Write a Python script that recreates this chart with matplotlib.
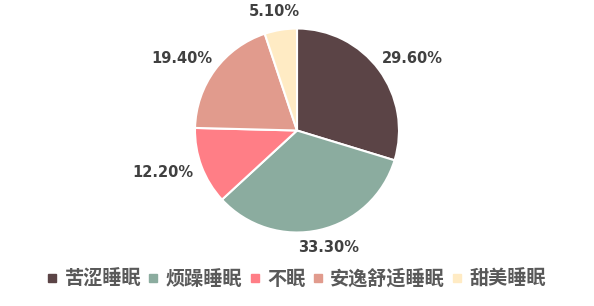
import numpy as np
import matplotlib
matplotlib.use("Agg")
import matplotlib.pyplot as plt
from matplotlib.lines import Line2D

categories = ["苦涩睡眠", "烦躁睡眠", "不眠", "安逸舒适睡眠", "甜美睡眠"]
values = [29.6, 33.3, 12.2, 19.4, 5.1]
pct_labels = ["29.60%", "33.30%", "12.20%", "19.40%", "5.10%"]
colors = ["#5B4446", "#8BAC9F", "#FF7E86", "#E19B8D", "#FFEBC4"]

plt.rcParams['font.family'] = ['Noto Sans CJK SC', 'DejaVu Sans']

W, H = 594, 306
fig = plt.figure(figsize=(W / 100, H / 100), dpi=100)
cx, cy, r = 297, 130.5, 102
ax = fig.add_axes([(cx - r) / W, (H - cy - r) / H, 2 * r / W, 2 * r / H])
ax.set_xlim(-1, 1)
ax.set_ylim(-1, 1)
ax.set_aspect('equal')
ax.axis('off')

wedges, _ = ax.pie(values, colors=colors, startangle=90, counterclock=False,
                   radius=1, wedgeprops=dict(edgecolor='white', linewidth=1.5))
ax.set_xlim(-1, 1)
ax.set_ylim(-1, 1)

fig.canvas.draw()
renderer = fig.canvas.get_renderer()
for w, lab in zip(wedges, pct_labels):
    th = np.deg2rad((w.theta1 + w.theta2) / 2)
    t = ax.text(0, 0, lab, ha='center', va='center', fontsize=10.5,
                fontweight='bold', color='#404040', family='DejaVu Sans')
    bb = t.get_window_extent(renderer)
    hw = (bb.width / 2 + 6) / r
    hh = (bb.height / 2 + 6) / r
    d0 = 1 + 5 / r
    x = d0 * np.cos(th) + hw * np.cos(th)
    y = d0 * np.sin(th) + hh * np.sin(th)
    t.set_position((x, y))

handles = [Line2D([], [], marker='s', linestyle='none', markersize=6,
                  markerfacecolor=c, markeredgecolor=c) for c in colors]
leg = fig.legend(handles, categories, loc='center', bbox_to_anchor=(0.5, 1 - 279 / H),
                 ncol=5, frameon=False, handlelength=0.43, handletextpad=0.44,
                 columnspacing=0.42, borderpad=0, borderaxespad=0,
                 prop=dict(family=['Noto Sans CJK SC'], size=13.8, weight='bold'))
for txt in leg.get_texts():
    txt.set_color('#595959')

fig.savefig('out.png', dpi=100)
